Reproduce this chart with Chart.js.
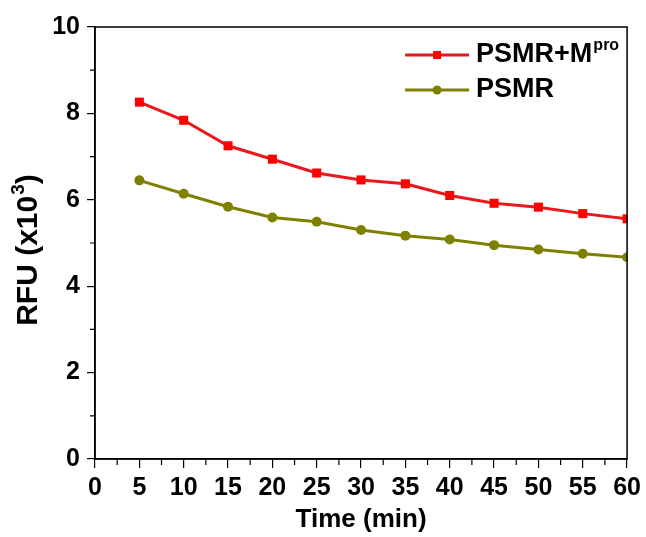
<!DOCTYPE html>
<html>
<head>
<meta charset="utf-8">
<script src="https://cdn.jsdelivr.net/npm/chart.js@4/dist/chart.umd.min.js"></script>
<style>
  html, body { margin: 0; padding: 0; background: #fff; }
  #wrap { width: 646px; height: 537px; }
</style>
</head>
<body>
<div id="wrap"><canvas id="rfuChart" width="646" height="537"></canvas></div>
<script>
// time points (min)
const times = [5, 10, 15, 20, 25, 30, 35, 40, 45, 50, 55, 60];
// RFU (x10^3)
const psmrMpro = [8.26, 7.84, 7.25, 6.94, 6.62, 6.46, 6.37, 6.10, 5.92, 5.83, 5.68, 5.56];
const psmr = [6.45, 6.14, 5.84, 5.59, 5.49, 5.30, 5.17, 5.08, 4.95, 4.85, 4.75, 4.67];
const xTicks = [0, 5, 10, 15, 20, 25, 30, 35, 40, 45, 50, 55, 60];
const yTicks = [0, 2, 4, 6, 8, 10];

const FONT = "'Liberation Sans', Arial, sans-serif";

function toPoints(ys) {
    return times.map((t, i) => ({ x: t, y: ys[i] }));
}

// text with a raised superscript part, starting at x
function supText(ctx, x, y, main, sup, after, size, supSize) {
    ctx.font = "bold " + size + "px " + FONT;
    ctx.fillText(main, x, y);
    let w = ctx.measureText(main).width;
    if (sup) {
        ctx.font = "bold " + supSize + "px " + FONT;
        ctx.fillText(sup, x + w + 1, y - size * 0.33);
        w += ctx.measureText(sup).width + 1;
    }
    if (after) {
        ctx.font = "bold " + size + "px " + FONT;
        ctx.fillText(after, x + w, y);
        w += ctx.measureText(after).width;
    }
    return w;
}

// frame + minor ticks + legend + y title
const extrasPlugin = {
    id: "extras",
    afterDraw(chart) {
        const ctx = chart.ctx;
        const a = chart.chartArea;
        const xs = chart.scales.x;
        const ys = chart.scales.y;
        ctx.save();
        ctx.strokeStyle = "#000";
        ctx.lineWidth = 1.5;
        ctx.strokeRect(a.left, a.top, a.right - a.left, a.bottom - a.top);

        // minor ticks
        ctx.lineWidth = 1.2;
        ctx.beginPath();
        for (let v = 2.5; v < 60; v += 5) {
            const px = xs.getPixelForValue(v);
            ctx.moveTo(px, a.bottom);
            ctx.lineTo(px, a.bottom + 6);
        }
        for (let v = 1; v < 10; v += 2) {
            const py = ys.getPixelForValue(v);
            ctx.moveTo(a.left, py);
            ctx.lineTo(a.left - 5, py);
        }
        ctx.stroke();

        // legend
        const lx = a.right - 222;
        const entries = [
            { y: a.top + 28, line: "#e8181c", fill: "#ff0000", style: "rect", text: "PSMR+M", sup: "pro" },
            { y: a.top + 63, line: "#808000", fill: "#808000", style: "circle", text: "PSMR", sup: "" }
        ];
        entries.forEach(e => {
            ctx.strokeStyle = e.line;
            ctx.lineWidth = 3;
            ctx.beginPath();
            ctx.moveTo(lx, e.y);
            ctx.lineTo(lx + 64, e.y);
            ctx.stroke();
            ctx.fillStyle = e.fill;
            if (e.style === "rect") {
                ctx.fillRect(lx + 32 - 4, e.y - 4, 8, 8);
            } else {
                ctx.beginPath();
                ctx.arc(lx + 32, e.y, 4.5, 0, Math.PI * 2);
                ctx.fill();
            }
            ctx.fillStyle = "#000";
            ctx.textBaseline = "middle";
            ctx.textAlign = "left";
            supText(ctx, lx + 71, e.y, e.text, e.sup, "", 27, 16);
        });

        // y axis title
        ctx.translate(29, 250);
        ctx.rotate(-Math.PI / 2);
        ctx.fillStyle = "#000";
        ctx.textBaseline = "middle";
        ctx.textAlign = "left";
        ctx.font = "bold 30px " + FONT;
        const wMain = ctx.measureText("RFU (x10").width;
        const wParen = ctx.measureText(")").width;
        ctx.font = "bold 19px " + FONT;
        const wSup = ctx.measureText("3").width + 1;
        const total = wMain + wSup + wParen;
        supText(ctx, -total / 2, 0, "RFU (x10", "3", ")", 30, 19);
        ctx.restore();
    }
};

const ctx = document.getElementById("rfuChart").getContext("2d");
new Chart(ctx, {
    type: "line",
    data: {
        datasets: [
            {
                label: "PSMR+Mpro",
                data: toPoints(psmrMpro),
                borderColor: "#e8181c",
                backgroundColor: "#ff0000",
                borderWidth: 3,
                pointStyle: "rect",
                pointRadius: 6.4,
                pointBorderWidth: 0,
                tension: 0
            },
            {
                label: "PSMR",
                data: toPoints(psmr),
                borderColor: "#808000",
                backgroundColor: "#808000",
                borderWidth: 3,
                pointStyle: "circle",
                pointRadius: 5,
                pointBorderWidth: 0,
                tension: 0
            }
        ]
    },
    options: {
        responsive: false,
        animation: false,
        layout: { padding: { left: 10, right: 18, top: 27, bottom: 0 } },
        plugins: {
            legend: { display: false },
            tooltip: { enabled: false }
        },
        scales: {
            x: {
                type: "linear",
                min: 0,
                max: 60,
                afterBuildTicks: s => { s.ticks = xTicks.map(v => ({ value: v })); },
                afterFit: s => { s.height = 78; },
                border: { display: true, color: "#000", width: 1.5 },
                grid: { drawOnChartArea: false, drawTicks: true, tickLength: 9, color: "#000", lineWidth: 1.2 },
                ticks: {
                    color: "#000",
                    padding: 5,
                    font: { family: FONT, size: 25, weight: "bold" },
                    maxRotation: 0,
                    autoSkip: false
                },
                title: {
                    display: true,
                    text: "Time (min)",
                    color: "#000",
                    padding: { top: 0, bottom: 2 },
                    font: { family: FONT, size: 26, weight: "bold" }
                }
            },
            y: {
                min: 0,
                max: 10,
                afterBuildTicks: s => { s.ticks = yTicks.map(v => ({ value: v })); },
                afterFit: s => { s.width = 85; },
                border: { display: true, color: "#000", width: 1.5 },
                grid: { drawOnChartArea: false, drawTicks: true, tickLength: 8, color: "#000", lineWidth: 1.2 },
                ticks: {
                    color: "#000",
                    padding: 7,
                    font: { family: FONT, size: 25, weight: "bold" }
                },
                title: { display: false }
            }
        }
    },
    plugins: [extrasPlugin]
});
</script>
</body>
</html>
